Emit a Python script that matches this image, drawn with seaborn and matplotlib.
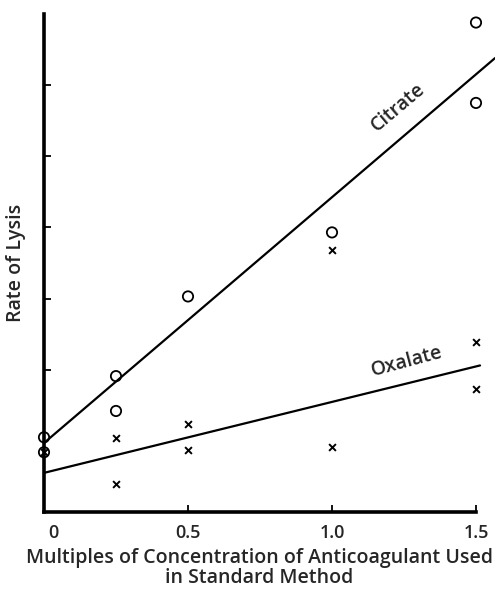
import numpy as np
import pandas as pd
import seaborn as sns
import matplotlib.pyplot as plt
import matplotlib.transforms as mtransforms

# -----------------------------
# Data
# -----------------------------
citrate_x = [0, 0, 0.25, 0.25, 0.5, 1.0, 1.5, 1.5]
citrate_y = [1.05, 0.84, 1.91, 1.42, 3.03, 3.93, 6.88, 5.75]

oxalate_x = [0, 0.25, 0.25, 0.5, 0.5, 1.0, 1.0, 1.5, 1.5]
oxalate_y = [0.84, 1.04, 0.39, 1.24, 0.87, 3.68, 0.92, 2.39, 1.73]

# fitted lines as drawn
citrate_line_x = [0, 1.566]
citrate_line_y = [0.97, 6.38]
oxalate_line_x = [0, 1.514]
oxalate_line_y = [0.55, 2.06]

xtick_vals = [0, 0.5, 1.0, 1.5]
xtick_labels = ["0", "0.5", "1.0", "1.5"]
ytick_vals = [2, 3, 4, 5, 6]

cit = pd.DataFrame({'x': citrate_x, 'y': citrate_y})
oxa = pd.DataFrame({'x': oxalate_x, 'y': oxalate_y})

sns.set_style("white")
plt.rcParams['font.family'] = ['Open Sans', 'DejaVu Sans']
fw = 'semibold'

fig = plt.figure(figsize=(4.95, 5.91), dpi=100)
ax = fig.add_axes([44 / 495, 1 - 512 / 591, 451 / 495, 498 / 591])

sns.lineplot(x=citrate_line_x, y=citrate_line_y, ax=ax, color='black', lw=1.6)
sns.lineplot(x=oxalate_line_x, y=oxalate_line_y, ax=ax, color='black', lw=1.6)

sns.scatterplot(data=cit, x='x', y='y', ax=ax, marker='o', s=55,
                facecolor='none', edgecolor='black', linewidth=1.3,
                clip_on=False, zorder=3)
sns.scatterplot(data=oxa, x='x', y='y', ax=ax, marker='x', s=24,
                color='black', linewidth=1.4, clip_on=False, zorder=3)

ax.set_xlim(0, 1.566)
ax.set_ylim(0, 7)

for s in ['top', 'right']:
    ax.spines[s].set_visible(False)
for s in ['left', 'bottom']:
    ax.spines[s].set_linewidth(2.6)
    ax.spines[s].set_color('black')
ax.spines['bottom'].set_bounds(0, 1.5)

ax.set_xticks(xtick_vals)
ax.set_xticklabels(xtick_labels, fontsize=13, fontweight=fw)
ax.set_yticks(ytick_vals)
ax.set_yticklabels([])
ax.tick_params(axis='both', direction='in', length=5, width=1.3,
               color='black', pad=9)
ax.tick_params(axis='x', bottom=True)
ax.tick_params(axis='y', left=True)
# the "0" label sits a little right of the corner
lbl0 = ax.get_xticklabels()[0]
lbl0.set_transform(lbl0.get_transform() +
                   mtransforms.ScaledTranslation(9 / 100, 0, fig.dpi_scale_trans))

ax.text(1.229, 5.69, "Citrate", rotation=40, fontsize=14, fontweight=fw,
        ha='center', va='center')
ax.text(1.26, 2.12, "Oxalate", rotation=15, fontsize=14, fontweight=fw,
        ha='center', va='center')

ax.set_xlabel("Multiples of Concentration of Anticoagulant Used\nin Standard Method",
              fontsize=14, fontweight=fw, linespacing=0.95, multialignment='center')
ax.xaxis.set_label_coords(0.477, -0.073)
ax.set_ylabel("Rate of Lysis", fontsize=14, fontweight=fw)
ax.yaxis.set_label_coords(-0.04, 0.5)

fig.savefig("out.png", dpi=100)
